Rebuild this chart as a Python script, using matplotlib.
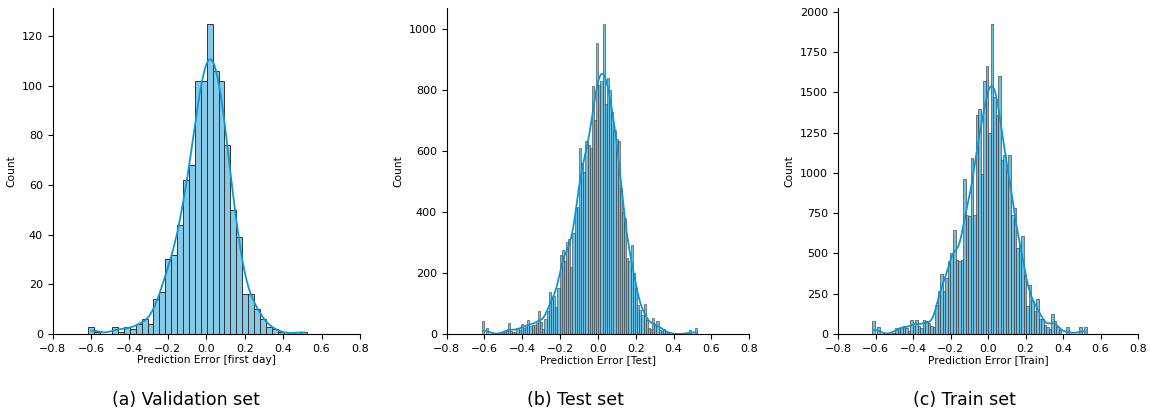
import numpy as np
import matplotlib
matplotlib.use("Agg")
import matplotlib.pyplot as plt
import seaborn as sns

# bin ranges (min / max of the prediction error) per set
val_range = (-0.614, 0.526)
test_range = (-0.613, 0.526)
train_range = (-0.617, 0.526)

# bar heights
val_counts = [3, 1, 0, 0, 3, 1, 3, 2, 4, 6, 4, 14, 17, 30, 32, 44, 62, 68, 102, 102,
              125, 106, 102, 76, 50, 39, 16, 16, 10, 6, 3, 2, 1, 0, 0, 1, 1]

test_counts = [41, 0, 20, 0, 0, 0, 0, 0, 0, 3, 5, 11, 36, 10, 6, 8, 20, 12, 33, 18,
               22, 45, 26, 30, 29, 35, 74, 38, 17, 50, 74, 137, 120, 123, 90, 150, 259, 276, 240, 300,
               312, 219, 330, 414, 417, 608, 560, 530, 632, 620, 608, 813, 700, 954, 815, 830, 1017, 752, 839, 800,
               728, 668, 640, 632, 477, 401, 380, 250, 238, 292, 200, 150, 96, 80, 63, 98, 45, 20, 17, 52,
               30, 41, 14, 10, 17, 9, 3, 0, 0, 0, 0, 0, 0, 0, 0, 0, 14, 0, 0, 20]

train_counts = [83, 0, 41, 0, 0, 0, 0, 0, 5, 37, 37, 43, 48, 37, 20, 89, 48, 89, 48, 37,
                89, 83, 68, 48, 45, 182, 270, 373, 265, 348, 451, 500, 648, 462, 451, 462,
                963, 741, 731, 1094, 741, 1359, 1398, 994, 1570, 1663, 1249, 1928, 1473, 1363,
                1605, 1083, 1114, 1017, 1114, 741, 783, 535, 555, 611, 369, 172, 302, 203, 141,
                220, 95, 95, 58, 41, 30, 124, 83, 43, 27, 0, 0, 41, 0, 0, 0, 0, 43, 0, 41]

xticks = [-0.8, -0.6, -0.4, -0.2, 0.0, 0.2, 0.4, 0.6, 0.8]
val_yticks = [0, 20, 40, 60, 80, 100, 120]
test_yticks = [0, 200, 400, 600, 800, 1000]
train_yticks = [0, 250, 500, 750, 1000, 1250, 1500, 1750, 2000]

xlabels = ['Prediction Error [first day]', 'Prediction Error [Test]', 'Prediction Error [Train]']
captions = ['(a) Validation set', '(b) Test set', '(c) Train set']

bar_color = '#0b97d2'

fig = plt.figure(figsize=(11.5, 4.15), dpi=100)

# axes position, range, counts, yticks, kde bw_adjust, bar alpha, edge colour, edge width
panels = [
    ([0.0458, 0.1952, 0.2672, 0.7855], val_range, val_counts, val_yticks, 0.42, 0.5, '#333333', 0.7),
    ([0.3884, 0.1952, 0.2631, 0.7855], test_range, test_counts, test_yticks, 0.36, 0.6, '#4a4a4a', 0.45),
    ([0.7287, 0.1952, 0.2609, 0.7855], train_range, train_counts, train_yticks, 0.32, 0.6, '#4a4a4a', 0.5),
]

for i, (pos, rng, counts, yticks, bw, alpha, ec, lw) in enumerate(panels):
    ax = fig.add_axes(pos)
    edges = np.linspace(rng[0], rng[1], len(counts) + 1)
    centers = (edges[:-1] + edges[1:]) / 2
    # bins as a plain list: seaborn compares bins == "auto" when weights are given
    sns.histplot(x=centers, weights=counts, bins=edges.tolist(), kde=True, color=bar_color,
                 alpha=alpha, edgecolor=ec, linewidth=lw,
                 kde_kws={'bw_adjust': bw}, line_kws={'linewidth': 1.3}, ax=ax)
    ax.set_xlim(-0.8, 0.8)
    ax.set_xticks(xticks)
    ax.set_yticks(yticks)
    ax.tick_params(labelsize=8)
    ax.set_xlabel(xlabels[i], fontsize=7.7, labelpad=1)
    ax.set_ylabel('Count', fontsize=7.7)
    sns.despine(ax=ax)

# sub-captions under each panel
cap_x = [0.1617, 0.5, 0.839]
for x, text in zip(cap_x, captions):
    fig.text(x, 0.036, text, ha='center', va='center', fontsize=12.5)

plt.savefig('out.png', dpi=100)
plt.close()
